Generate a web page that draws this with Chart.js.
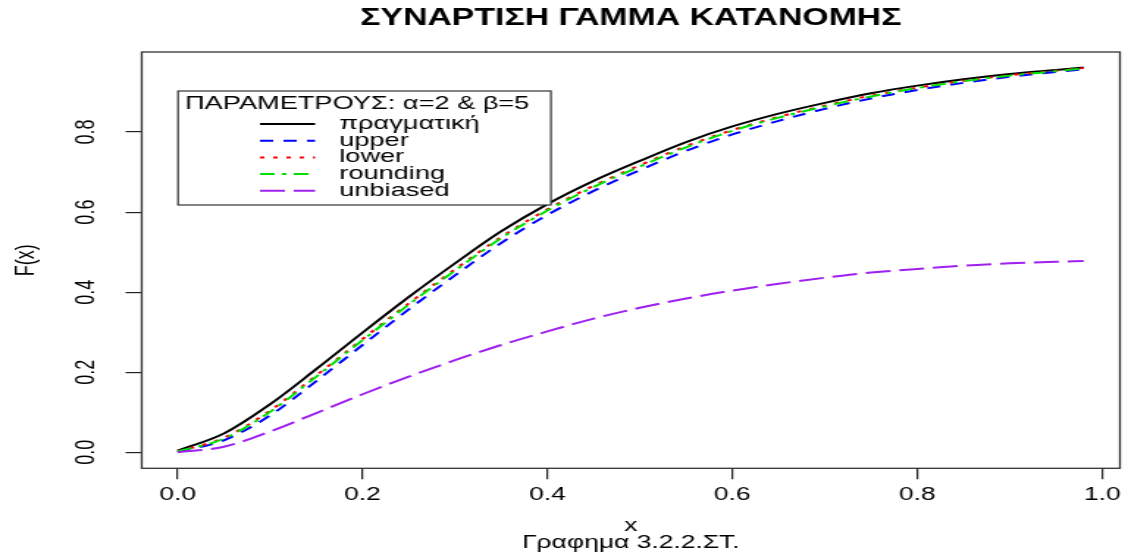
<!DOCTYPE html>
<html>
<head>
<meta charset="utf-8">
<title>Συνάρτηση Γάμμα κατανομής</title>
<script src="https://cdn.jsdelivr.net/npm/chart.js@4.4.1/dist/chart.umd.min.js"></script>
<style>
  html, body { margin: 0; padding: 0; background: #fff; }
  /* drawn at 768 wide and widened to the page width */
  #gammaChart { display: block; width: 1128px !important; height: 553px !important; }
</style>
</head>
<body>
<canvas id="gammaChart" width="768" height="553"></canvas>
<script>
// === DATA ===
const xValues = [0, 0.05, 0.10, 0.15, 0.20, 0.25, 0.30, 0.35, 0.40, 0.45, 0.50,
                 0.55, 0.60, 0.65, 0.70, 0.75, 0.80, 0.85, 0.90, 0.95, 0.98];

const trueCdf     = [0.004, 0.047, 0.120, 0.208, 0.299, 0.388, 0.472, 0.552, 0.620, 0.678, 0.728,
                     0.775, 0.814, 0.846, 0.873, 0.897, 0.916, 0.932, 0.945, 0.955, 0.961];
const upperCdf    = [0.001, 0.030, 0.092, 0.178, 0.268, 0.357, 0.442, 0.523, 0.593, 0.653, 0.705,
                     0.753, 0.794, 0.828, 0.858, 0.884, 0.905, 0.923, 0.938, 0.950, 0.957];
const lowerCdf    = [0.002, 0.036, 0.104, 0.192, 0.283, 0.372, 0.457, 0.538, 0.607, 0.666, 0.717,
                     0.765, 0.805, 0.838, 0.866, 0.891, 0.911, 0.928, 0.942, 0.953, 0.960];
const roundingCdf = [0.002, 0.034, 0.101, 0.189, 0.280, 0.369, 0.454, 0.535, 0.604, 0.663, 0.714,
                     0.762, 0.803, 0.836, 0.864, 0.889, 0.910, 0.927, 0.941, 0.952, 0.959];
const unbiasedCdf = [0.000, 0.014, 0.052, 0.098, 0.145, 0.189, 0.230, 0.268, 0.302, 0.334, 0.361,
                     0.384, 0.404, 0.421, 0.436, 0.449, 0.458, 0.466, 0.472, 0.476, 0.478];

const seriesLabels = ['πραγματική', 'upper', 'lower', 'rounding', 'unbiased'];

const xTicks = [0, 0.2, 0.4, 0.6, 0.8, 1.0];
const xTickLabels = ['0.0', '0.2', '0.4', '0.6', '0.8', '1.0'];
const yTicks = [0, 0.2, 0.4, 0.6, 0.8];
const yTickLabels = ['0.0', '0.2', '0.4', '0.6', '0.8'];

const chartTitle = 'ΣΥΝΑΡΤΙΣΗ ΓΑΜΜΑ ΚΑΤΑΝΟΜΗΣ';
const legendTitle = 'ΠΑΡΑΜΕΤΡΟΥΣ: α=2 & β=5';
const xTitle = ['x', 'Γραφημα 3.2.2.ΣΤ.'];
const yTitle = 'F(x)';

// === STYLE ===
const FAMILY = "'Liberation Sans', Arial, Helvetica, sans-serif";

function toPoints(values) {
    return xValues.map((x, i) => ({ x: x, y: values[i] }));
}

function series(label, values, color, dash, order) {
    return {
        label: label,
        data: toPoints(values),
        borderColor: color,
        backgroundColor: color,
        borderWidth: 2,
        borderDash: dash,
        pointRadius: 0,
        cubicInterpolationMode: 'monotone',
        fill: false,
        order: order
    };
}

// white page behind everything
const whiteBackground = {
    id: 'whiteBackground',
    beforeDraw(chart) {
        const ctx = chart.ctx;
        ctx.save();
        ctx.fillStyle = '#fff';
        ctx.fillRect(0, 0, chart.width, chart.height);
        ctx.restore();
    }
};

// plot frame, main title and the rotated y tick labels
const frameAndLabels = {
    id: 'frameAndLabels',
    afterDraw(chart) {
        const ctx = chart.ctx;
        const area = chart.chartArea;
        const yScale = chart.scales.y;
        ctx.save();
        ctx.strokeStyle = '#333';
        ctx.lineWidth = 1.3;
        ctx.strokeRect(area.left, area.top, area.right - area.left, area.bottom - area.top);

        ctx.fillStyle = '#000';
        ctx.textAlign = 'center';
        ctx.textBaseline = 'middle';
        ctx.font = 'bold 23px ' + FAMILY;
        ctx.fillText(chartTitle, (area.left + area.right) / 2, 18.5);

        ctx.font = '18px ' + FAMILY;
        yTicks.forEach((v, i) => {
            ctx.save();
            ctx.translate(59.2, yScale.getPixelForValue(v));
            ctx.rotate(-Math.PI / 2);
            ctx.fillText(yTickLabels[i], 0, 0);
            ctx.restore();
        });
        ctx.restore();
    }
};

// boxed legend in the upper left of the plot
const boxLegend = {
    id: 'boxLegend',
    afterDatasetsDraw(chart) {
        const ctx = chart.ctx;
        const bx = 121.2, by = 91, bw = 253.9, bh = 114;
        ctx.save();
        ctx.fillStyle = '#fff';
        ctx.fillRect(bx, by, bw, bh);
        ctx.strokeStyle = '#333';
        ctx.lineWidth = 1.2;
        ctx.strokeRect(bx, by, bw, bh);

        ctx.font = '18.5px ' + FAMILY;
        ctx.fillStyle = '#000';
        ctx.textAlign = 'left';
        ctx.textBaseline = 'middle';
        ctx.fillText(legendTitle, bx + 4.8, by + 12.5);

        chart.data.datasets.forEach((ds, i) => {
            const ly = 124 + i * 16.7;
            ctx.beginPath();
            ctx.setLineDash(ds.borderDash || []);
            ctx.strokeStyle = ds.borderColor;
            ctx.lineWidth = ds.borderWidth;
            ctx.moveTo(177, ly);
            ctx.lineTo(214.5, ly);
            ctx.stroke();
            ctx.setLineDash([]);
            ctx.fillText(ds.label, 231, ly);
        });
        ctx.restore();
    }
};

const ctx = document.getElementById('gammaChart');

new Chart(ctx, {
    type: 'line',
    data: {
        datasets: [
            series(seriesLabels[0], trueCdf, '#000000', [], 5),
            series(seriesLabels[1], upperCdf, '#0000FF', [9, 7], 4),
            series(seriesLabels[2], lowerCdf, '#FF0000', [3, 6], 3),
            series(seriesLabels[3], roundingCdf, '#00E000', [10, 5, 3, 5], 2),
            series(seriesLabels[4], unbiasedCdf, '#A020F0', [17, 6], 1)
        ]
    },
    options: {
        responsive: false,
        animation: false,
        devicePixelRatio: 1,
        events: [],
        layout: { padding: { top: 52, right: 4.2, bottom: 0, left: 0 } },
        plugins: {
            legend: { display: false },
            title: { display: false },
            tooltip: { enabled: false }
        },
        scales: {
            x: {
                type: 'linear',
                min: -0.0388,
                max: 1.0192,
                afterBuildTicks: (scale) => { scale.ticks = xTicks.map(v => ({ value: v })); },
                afterFit: (scale) => { scale.height = 84.7; },
                ticks: {
                    autoSkip: false,
                    maxRotation: 0,
                    padding: 5,
                    color: '#000',
                    font: { family: FAMILY, size: 18 },
                    callback: (value, index) => xTickLabels[index]
                },
                grid: {
                    drawOnChartArea: false,
                    drawTicks: true,
                    tickLength: 11,
                    tickColor: '#222',
                    color: '#222',
                    lineWidth: 1.2
                },
                border: { display: false },
                title: {
                    display: true,
                    text: xTitle,
                    color: '#000',
                    font: { family: FAMILY, size: 18, lineHeight: '17.5px' },
                    padding: { top: 0, bottom: 1.2 }
                }
            },
            y: {
                type: 'linear',
                min: -0.04,
                max: 1.0,
                afterBuildTicks: (scale) => { scale.ticks = yTicks.map(v => ({ value: v })); },
                afterFit: (scale) => { scale.width = 96.5; },
                ticks: { display: false },
                grid: {
                    drawOnChartArea: false,
                    drawTicks: true,
                    tickLength: 11,
                    tickColor: '#222',
                    color: '#222',
                    lineWidth: 1.2
                },
                border: { display: false },
                title: {
                    display: true,
                    text: yTitle,
                    color: '#000',
                    font: { family: FAMILY, size: 18, lineHeight: 1.2 },
                    padding: { top: 6.9, bottom: 0 }
                }
            }
        }
    },
    plugins: [whiteBackground, boxLegend, frameAndLabels]
});
</script>
</body>
</html>
